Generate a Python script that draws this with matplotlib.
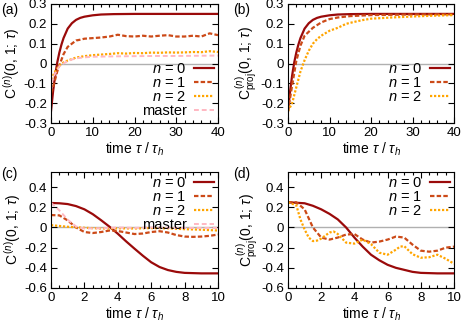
import matplotlib
matplotlib.use("Agg")
import matplotlib.pyplot as plt
from matplotlib.ticker import MultipleLocator

plt.rcParams['font.family'] = ['Liberation Sans', 'DejaVu Sans']
plt.rcParams['mathtext.fontset'] = 'custom'
plt.rcParams['mathtext.rm'] = 'Liberation Sans'
plt.rcParams['mathtext.it'] = 'Liberation Sans:italic'
plt.rcParams['font.size'] = 9

# ---------------- data (a) ----------------
t_a0 = [0, 0.5, 1, 1.5, 2, 2.5, 3, 4, 5, 6, 7, 8, 10, 12, 15, 20, 30, 40]
a_n0 = [-0.24, -0.14, -0.06, 0.005, 0.055, 0.095, 0.128, 0.176, 0.203, 0.22, 0.23, 0.236, 0.243, 0.247, 0.249, 0.25, 0.25, 0.25]

t_a1 = [0, 0.5, 1, 1.5, 2, 3, 4, 5, 6, 7, 8, 10, 12, 14, 16, 18, 20, 22, 24, 26, 28, 30, 32, 34, 36, 38, 40]
a_n1 = [-0.15, -0.12, -0.08, -0.04, -0.01, 0.047, 0.084, 0.10, 0.116, 0.12, 0.125, 0.128, 0.131, 0.136, 0.145, 0.138, 0.136, 0.14, 0.136, 0.14, 0.143, 0.136, 0.136, 0.14, 0.136, 0.152, 0.143]

t_a2 = [0, 0.5, 1, 1.5, 2, 3, 4, 5, 6, 8, 10, 12, 14, 16, 18, 20, 22, 24, 26, 28, 30, 32, 34, 36, 38, 40]
a_n2 = [-0.08, -0.06, -0.04, -0.025, -0.01, 0.005, 0.015, 0.022, 0.03, 0.037, 0.042, 0.045, 0.048, 0.052, 0.05, 0.053, 0.052, 0.055, 0.054, 0.056, 0.055, 0.056, 0.058, 0.057, 0.062, 0.058]

t_am = [0, 1, 2, 3, 4, 5, 6, 8, 10, 15, 20, 25, 30, 35, 40]
a_master = [-0.1, -0.05, -0.015, 0.0, 0.012, 0.02, 0.026, 0.031, 0.034, 0.036, 0.037, 0.038, 0.038, 0.039, 0.04]

# ---------------- data (b) ----------------
t_b1 = [0, 1, 2, 3, 4, 5, 6, 8, 10, 12, 15, 20, 30, 40]
b_n1 = [-0.24, -0.11, 0.013, 0.09, 0.14, 0.16, 0.18, 0.207, 0.224, 0.232, 0.239, 0.244, 0.247, 0.248]

t_b2 = [0, 1, 2, 3, 4, 5, 6, 7, 8, 10, 12, 14, 16, 18, 20, 25, 30, 35, 40]
b_n2 = [-0.24, -0.2, -0.12, -0.04, 0.017, 0.064, 0.1, 0.123, 0.14, 0.165, 0.18, 0.2, 0.21, 0.219, 0.226, 0.232, 0.237, 0.241, 0.244]

# ---------------- data (c) ----------------
t_c0 = [0, 0.5, 1, 1.5, 2, 2.5, 3, 3.5, 4, 4.5, 5, 5.5, 6, 6.5, 7, 7.5, 8, 9, 10]
c_n0 = [0.243, 0.24, 0.232, 0.212, 0.18, 0.132, 0.072, 0.008, -0.062, -0.138, -0.21, -0.28, -0.345, -0.392, -0.422, -0.44, -0.45, -0.455, -0.455]

t_c1 = [0, 0.5, 1, 1.5, 2, 2.5, 3, 3.5, 4, 4.5, 5, 5.5, 6, 6.5, 7, 7.5, 8, 8.5, 9, 9.5, 10]
c_n1 = [0.123, 0.12, 0.07, 0.0, -0.045, -0.055, -0.045, -0.03, -0.035, -0.05, -0.065, -0.06, -0.045, -0.037, -0.05, -0.075, -0.09, -0.093, -0.09, -0.083, -0.07]

t_c2 = [0, 1, 2, 3, 4, 5, 6, 7, 8, 9, 10]
c_n2 = [0.023, 0.007, -0.003, -0.01, -0.008, -0.01, -0.006, -0.008, -0.017, -0.022, -0.03]

t_cm = [0, 0.5, 1, 1.5, 2, 3, 4, 5, 6, 7, 8, 9, 10]
c_master = [0.245, 0.17, 0.077, 0.01, -0.01, -0.008, 0.0, -0.004, 0.0, -0.003, -0.005, -0.004, -0.005]

# ---------------- data (d) ----------------
t_d0 = [0, 1, 1.5, 2, 2.5, 3, 3.5, 4, 4.5, 5, 5.5, 6, 6.5, 7, 7.5, 8, 9, 10]
d_n0 = [0.25, 0.24, 0.215, 0.18, 0.135, 0.08, 0.0, -0.1, -0.19, -0.27, -0.325, -0.37, -0.4, -0.42, -0.44, -0.45, -0.455, -0.455]

t_d1 = [0, 0.5, 1, 1.5, 2, 2.5, 3, 3.5, 4, 4.5, 5, 5.5, 6, 6.5, 7, 7.5, 8, 8.5, 9, 9.5, 10]
d_n1 = [0.25, 0.25, 0.18, 0.0, -0.10, -0.12, -0.10, -0.07, -0.065, -0.12, -0.15, -0.14, -0.12, -0.09, -0.10, -0.17, -0.23, -0.24, -0.23, -0.2, -0.19]

t_d2 = [0, 0.5, 0.75, 1, 1.25, 1.5, 1.75, 2, 2.5, 2.75, 3, 3.5, 4, 4.5, 5, 5.5, 6, 6.5, 6.75, 7, 7.5, 8, 8.5, 9, 9.5, 10]
d_n2 = [0.25, 0.22, 0.08, -0.02, -0.1, -0.135, -0.13, -0.11, -0.05, -0.04, -0.065, -0.15, -0.16, -0.12, -0.165, -0.25, -0.27, -0.22, -0.19, -0.185, -0.265, -0.30, -0.295, -0.27, -0.31, -0.36]

legend_labels = [r'$n$ = 0', r'$n$ = 1', r'$n$ = 2', 'master']

# ---------------- styles ----------------
C0 = '#9a0a0a'
C1 = '#cc4a18'
C2 = '#ffa500'
CM = '#ffb8c2'
st0 = dict(color=C0, lw=1.6, ls='-')
st1 = dict(color=C1, lw=1.6, ls=(0, (2.0, 1.0)))
st2 = dict(color=C2, lw=1.6, ls=(0, (1.0, 0.8)))
stm = dict(color=CM, lw=1.4, ls=(0, (2.5, 1.5)))

fig = plt.figure(figsize=(4.63, 3.24), dpi=100)
W, H = 463, 324
def ax_at(l, t, r, b):
    return fig.add_axes([l / W, 1 - b / H, (r - l) / W, (b - t) / H])

axa = ax_at(51, 4, 218, 123)
axb = ax_at(288, 4, 454, 123)
axc = ax_at(51, 172, 218, 288)
axd = ax_at(288, 172, 454, 288)

ylab = r'$\mathrm{C}^{\,(n)}(0,\,1;\,\tau)$'
ylab_p = r'$\mathrm{C}^{\,(n)}_{\mathrm{proj}}(0,\,1;\,\tau)$'
xlab = r'time $\tau$ / $\tau_h$'

def style(ax, xmax, xmaj, xmin, ylim, ymaj):
    ax.axhline(0, color='#b0b0b0', lw=1.0, zorder=0)
    ax.set_xlim(0, xmax)
    ax.set_ylim(*ylim)
    ax.xaxis.set_major_locator(MultipleLocator(xmaj))
    ax.xaxis.set_minor_locator(MultipleLocator(xmin))
    ax.yaxis.set_major_locator(MultipleLocator(ymaj))
    ax.tick_params(which='both', direction='in', top=True, right=True, labelsize=9.5, pad=3)
    ax.tick_params(which='major', length=4, width=0.8)
    ax.tick_params(which='minor', length=2, width=0.8)
    for s in ax.spines.values():
        s.set_linewidth(0.8)
    ax.set_xlabel(xlab, fontsize=10, labelpad=1)

def leg(ax, loc, bbox):
    l = ax.legend(loc=loc, bbox_to_anchor=bbox, frameon=False, markerfirst=False,
                  handlelength=1.4, handletextpad=0.5, labelspacing=0.0, fontsize=10.5,
                  borderaxespad=0.0, borderpad=0.25)
    return l

# (a)
axa.plot(t_a0, a_n0, label=legend_labels[0], **st0)
axa.plot(t_a1, a_n1, label=legend_labels[1], **st1)
axa.plot(t_a2, a_n2, label=legend_labels[2], **st2)
axa.plot(t_am, a_master, label=legend_labels[3], **stm)
style(axa, 40, 10, 2, (-0.3, 0.3), 0.1)
axa.set_yticks([-0.3, -0.2, -0.1, 0, 0.1, 0.2, 0.3])
axa.set_yticklabels(['-0.3', '-0.2', '-0.1', '0', '0.1', '0.2', '0.3'])
axa.set_ylabel(ylab, fontsize=10, labelpad=1)
leg(axa, 'lower right', (1.0, 0.01))

# (b)
axb.plot(t_a0, a_n0, label=legend_labels[0], **st0)
axb.plot(t_b1, b_n1, label=legend_labels[1], **st1)
axb.plot(t_b2, b_n2, label=legend_labels[2], **st2)
style(axb, 40, 10, 2, (-0.3, 0.3), 0.1)
axb.set_yticks([-0.3, -0.2, -0.1, 0, 0.1, 0.2, 0.3])
axb.set_yticklabels(['-0.3', '-0.2', '-0.1', '0', '0.1', '0.2', '0.3'])
axb.set_ylabel(ylab_p, fontsize=10, labelpad=1)
leg(axb, 'lower right', (1.0, 0.13))

# (c)
axc.plot(t_c0, c_n0, label=legend_labels[0], **st0)
axc.plot(t_c1, c_n1, label=legend_labels[1], **st1)
axc.plot(t_c2, c_n2, label=legend_labels[2], **st2)
axc.plot(t_cm, c_master, label=legend_labels[3], **stm)
style(axc, 10, 2, 0.5, (-0.6, 0.55), 0.2)
axc.set_yticks([-0.6, -0.4, -0.2, 0, 0.2, 0.4])
axc.set_yticklabels(['-0.6', '-0.4', '-0.2', '0', '0.2', '0.4'])
axc.set_ylabel(ylab, fontsize=10, labelpad=1)
leg(axc, 'upper right', (1.0, 1.0))

# (d)
axd.plot(t_d0, d_n0, label=legend_labels[0], **st0)
axd.plot(t_d1, d_n1, label=legend_labels[1], **st1)
axd.plot(t_d2, d_n2, label=legend_labels[2], **st2)
style(axd, 10, 2, 0.5, (-0.6, 0.55), 0.2)
axd.set_yticks([-0.6, -0.4, -0.2, 0, 0.2, 0.4])
axd.set_yticklabels(['-0.6', '-0.4', '-0.2', '0', '0.2', '0.4'])
axd.set_ylabel(ylab_p, fontsize=10, labelpad=1)
leg(axd, 'upper right', (1.0, 1.0))

for txt, x, y in [('(a)', 1, 10), ('(b)', 233, 10), ('(c)', 1, 174), ('(d)', 233, 174)]:
    fig.text(x / W, 1 - y / H, txt, fontsize=10, va='center', ha='left')

fig.savefig('out.png', dpi=100)
